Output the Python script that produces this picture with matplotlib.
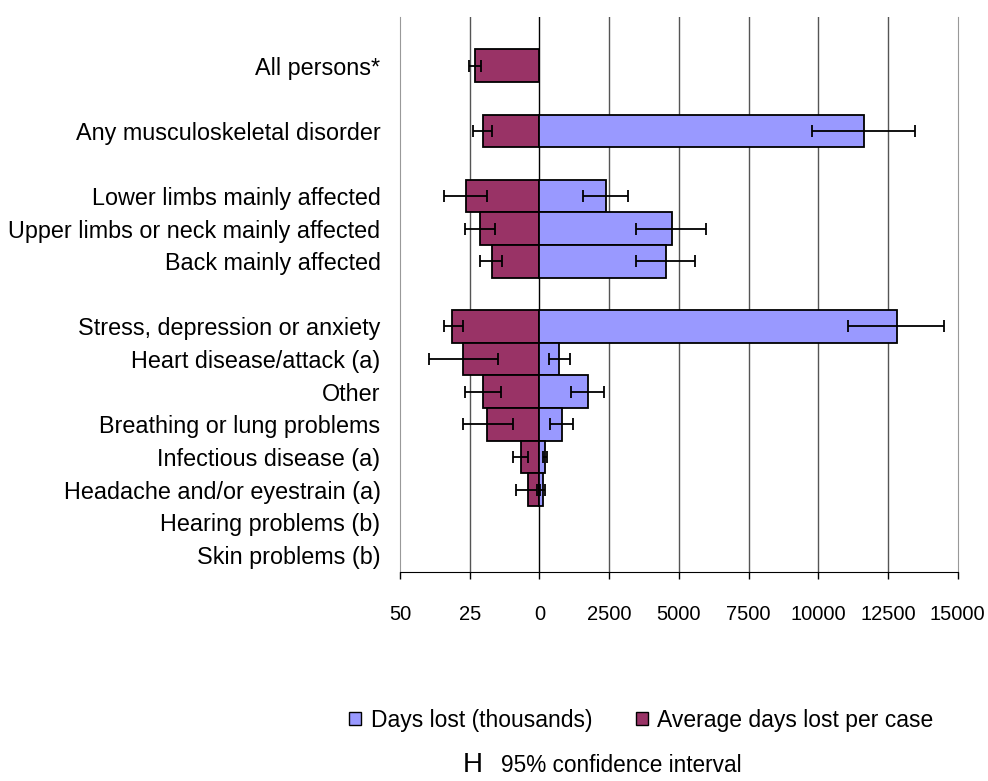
import matplotlib.pyplot as plt
from matplotlib.patches import Patch

plt.rcParams['font.family'] = ['Liberation Sans', 'DejaVu Sans']

categories = [
    'All persons*',
    'Any musculoskeletal disorder',
    'Lower limbs mainly affected',
    'Upper limbs or neck mainly affected',
    'Back mainly affected',
    'Stress, depression or anxiety',
    'Heart disease/attack (a)',
    'Other',
    'Breathing or lung problems',
    'Infectious disease (a)',
    'Headache and/or eyestrain (a)',
    'Hearing problems (b)',
    'Skin problems (b)',
]
rows = [0, 2, 4, 5, 6, 8, 9, 10, 11, 12, 13, 14, 15]

# days lost (thousands) with 95% CI
days_lost = [None, 11620, 2380, 4735, 4535, 12805, 705, 1735, 815, 215, 115, None, None]
days_lo = [None, 9790, 1555, 3445, 3445, 11075, 325, 1125, 385, 120, 30, None, None]
days_hi = [None, 13450, 3180, 5980, 5595, 14515, 1090, 2320, 1200, 275, 215, None, None]

# average days lost per case with 95% CI
avg_days = [23.0, 20.3, 26.2, 21.4, 17.1, 31.2, 27.4, 20.3, 18.8, 6.8, 4.2, None, None]
avg_lo = [20.8, 17.1, 18.7, 15.9, 13.3, 27.3, 14.9, 13.8, 9.4, 4.1, 1.0, None, None]
avg_hi = [25.2, 23.7, 34.3, 26.8, 21.4, 34.3, 39.7, 26.8, 27.5, 9.5, 8.5, None, None]

# left half: 25 days per case occupies the same width as 2500 thousand days
SCALE = 100

BLUE = '#9999FF'
PLUM = '#993366'

fig = plt.figure(figsize=(9.88, 7.81), dpi=100)
ax = fig.add_axes([0.4049, 0.2676, 0.5645, 0.7106])

# left-hand bars (average days per case, drawn negative)
idx = [i for i, v in enumerate(avg_days) if v is not None]
ax.barh([rows[i] for i in idx], [-avg_days[i] * SCALE for i in idx], height=1.0,
        color=PLUM, edgecolor='black', linewidth=1.3, zorder=3)
ax.errorbar([-avg_days[i] * SCALE for i in idx], [rows[i] for i in idx],
            xerr=[[(avg_hi[i] - avg_days[i]) * SCALE for i in idx],
                  [(avg_days[i] - avg_lo[i]) * SCALE for i in idx]],
            fmt='none', ecolor='black', elinewidth=1.3, capsize=4.5, capthick=1.3, zorder=4)

# right-hand bars (days lost, thousands)
idx = [i for i, v in enumerate(days_lost) if v is not None]
ax.barh([rows[i] for i in idx], [days_lost[i] for i in idx], height=1.0,
        color=BLUE, edgecolor='black', linewidth=1.3, zorder=3)
ax.errorbar([days_lost[i] for i in idx], [rows[i] for i in idx],
            xerr=[[days_lost[i] - days_lo[i] for i in idx],
                  [days_hi[i] - days_lost[i] for i in idx]],
            fmt='none', ecolor='black', elinewidth=1.3, capsize=4.5, capthick=1.3, zorder=4)

xticks = [-5000, -2500, 0, 2500, 5000, 7500, 10000, 12500, 15000]
xlabels = ['50', '25', '0', '2500', '5000', '7500', '10000', '12500', '15000']
ax.set_xlim(-5000, 15000)
ax.set_ylim(15.53, -1.49)
ax.set_xticks(xticks)
ax.set_xticklabels(xlabels, fontsize=14.5)
ax.set_yticks(rows)
ax.set_yticklabels(categories, fontsize=16.8)
ax.tick_params(axis='y', length=0, pad=14)
ax.tick_params(axis='x', length=5, width=1, direction='out', pad=19)

for x in xticks[1:-1]:
    ax.axvline(x, color='black' if x == 0 else '#555555', linewidth=1.0, zorder=1)
ax.spines['top'].set_visible(False)
ax.spines['left'].set_color('#999999')
ax.spines['right'].set_color('#999999')
ax.spines['bottom'].set_color('black')

handles = [Patch(facecolor=BLUE, edgecolor='black', linewidth=1.0),
           Patch(facecolor=PLUM, edgecolor='black', linewidth=1.0)]
fig.legend(handles, ['Days lost (thousands)', 'Average days lost per case'],
           loc='center', bbox_to_anchor=(0.649, 0.078), ncol=2, frameon=False,
           fontsize=16.5, handlelength=0.55, handleheight=0.55, handletextpad=0.4,
           columnspacing=1.9)

# key for the whisker symbol
fig.text(0.4685, 0.012, 'H', fontsize=20, ha='left', va='baseline')
fig.text(0.507, 0.012, '95% confidence interval', fontsize=16.3, ha='left', va='baseline')

fig.savefig('out.png', dpi=100)
